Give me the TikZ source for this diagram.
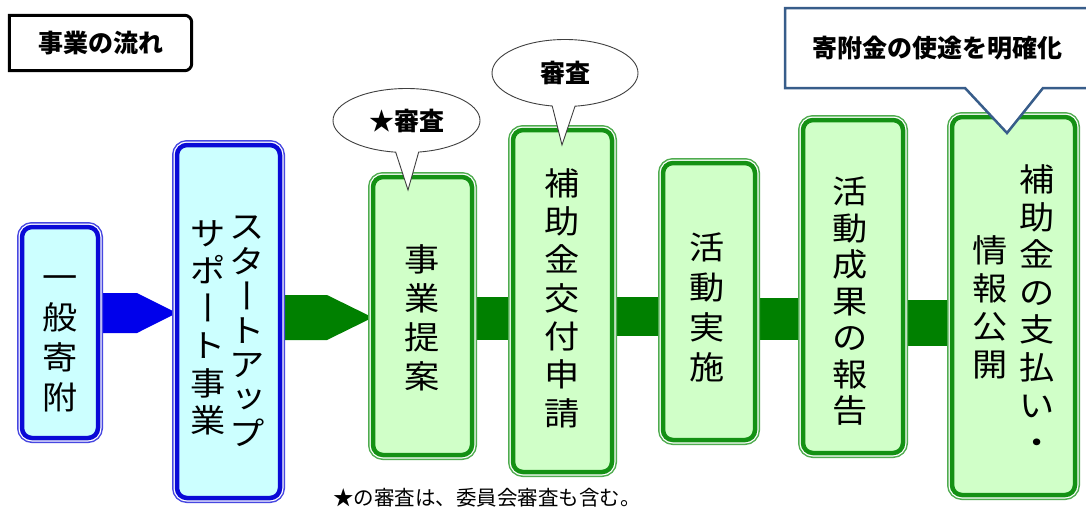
\documentclass[tikz,border=0pt]{standalone}
\usepackage{fontspec}
\newfontfamily\jp{Noto Sans CJK JP}
\newfontfamily\jpt[FakeStretch=1.1]{Noto Sans CJK JP}
\usetikzlibrary{shapes.callouts,shapes.geometric,calc}
\definecolor{bbord}{RGB}{10,10,215}
\definecolor{bfill}{RGB}{204,255,255}
\definecolor{gbord}{RGB}{20,145,20}
\definecolor{gfill}{RGB}{208,255,200}
\definecolor{conn}{RGB}{0,128,0}
\definecolor{barrow}{RGB}{0,0,235}
\definecolor{cbord}{RGB}{56,93,138}
\newcommand\jrow[1]{\rule[-0.12em]{0pt}{1em}#1}
\newcommand\vbar{\rotatebox[origin=c]{90}{\makebox[1em]{\rule[-0.12em]{0pt}{1em}ー}}}
\newcommand\smtu{\makebox[1em]{\hspace{0.12em}\raisebox{0.12em}{ッ}}}
\begin{document}
\begin{tikzpicture}[x=1pt,y=-1pt,
  flowbox/.style={rectangle, rounded corners=10pt, inner sep=0pt, draw=#1, line width=4.5pt,
    preaction={draw=#1!75, line width=10pt}, preaction={draw=white, line width=7pt}},
  bluebox/.style={flowbox=bbord, fill=bfill},
  greenbox/.style={flowbox=gbord, fill=gfill},
  vtext/.style={font=\jpt\fontsize{32}{#1}\selectfont, align=center, inner sep=0pt},
  bubble/.style={ellipse callout, draw=black!75, line width=0.9pt, fill=white, inner sep=0pt,
    callout pointer arc=18, font=\jp\bfseries\fontsize{25}{25}\selectfont},
  heading/.style={font=\jp\bfseries\fontsize{25}{25}\selectfont}
]
\useasboundingbox (0,0) rectangle (1086,512);
\clip (0,0) rectangle (1086,512);
\fill[white] (0,0) rectangle (1086,512);

% title
\node[minimum width=182pt, minimum height=55pt, inner sep=0pt, heading] (title) at (100.5,43) {事業の流れ};
\draw[line width=3pt] (title.north west) [rounded corners=7pt] -- (title.north east) -- (title.south east) [sharp corners] -- (title.south west) -- cycle;

% box positions (drawn after connectors)
\path
  (60,332.5)    node[minimum width=76pt,  minimum height=211pt, inner sep=0pt] (b1) {}
  (228.5,321.5) node[minimum width=103pt, minimum height=353pt, inner sep=0pt] (b2) {}
  (422.5,316)   node[minimum width=99pt,  minimum height=278pt, inner sep=0pt] (b3) {}
  (562.5,301)   node[minimum width=99pt,  minimum height=342pt, inner sep=0pt] (b4) {}
  (709,301.5)   node[minimum width=92pt,  minimum height=277pt, inner sep=0pt] (b5) {}
  (853,286.5)   node[minimum width=100pt, minimum height=333pt, inner sep=0pt] (b6) {}
  (1013.5,306)  node[minimum width=123pt, minimum height=378pt, inner sep=0pt] (b7) {};

% connectors
\fill[barrow] (b1.east |- 0,293) -- (137,293) -- (b2.west |- 0,313) -- (137,333) -- (b1.east |- 0,333) -- cycle;
\fill[conn] (b2.east |- 0,295) -- (327,295) -- (b3.west |- 0,317.5) -- (327,340) -- (b2.east |- 0,340) -- cycle;
\fill[conn] (b3.east |- 0,297) rectangle (b4.west |- 0,340);
\fill[conn] (b4.east |- 0,297) rectangle (b5.west |- 0,336);
\fill[conn] (b5.east |- 0,298) rectangle (b6.west |- 0,340);
\fill[conn] (b6.east |- 0,300) rectangle (b7.west |- 0,346);

% boxes
\node[bluebox,  minimum width=76pt,  minimum height=211pt] at (b1) {};
\node[bluebox,  minimum width=103pt, minimum height=353pt] at (b2) {};
\node[greenbox, minimum width=99pt,  minimum height=278pt] at (b3) {};
\node[greenbox, minimum width=99pt,  minimum height=342pt] at (b4) {};
\node[greenbox, minimum width=92pt,  minimum height=277pt] at (b5) {};
\node[greenbox, minimum width=100pt, minimum height=333pt] at (b6) {};
\node[greenbox, minimum width=123pt, minimum height=378pt] at (b7) {};

% texts
\node[vtext=40] (t1) at (60,337) {\jrow{一}\\\jrow{般}\\\jrow{寄}\\\jrow{附}};
\node[vtext=34.5] (t2r) at (247,330) {\jrow{ス}\\\jrow{タ}\\\jrow{\vbar}\\\jrow{ト}\\\jrow{ア}\\\jrow{\smtu}\\\jrow{プ}};
\node[vtext=37.5] (t2l) at (208,327) {\jrow{サ}\\\jrow{ポ}\\\jrow{\vbar}\\\jrow{ト}\\\jrow{事}\\\jrow{業}};
\node[vtext=39] (t3) at (422,318) {\jrow{事}\\\jrow{業}\\\jrow{提}\\\jrow{案}};
\node[vtext=38.3] (t4) at (562,298) {\jrow{補}\\\jrow{助}\\\jrow{金}\\\jrow{交}\\\jrow{付}\\\jrow{申}\\\jrow{請}};
\node[vtext=40] (t5) at (707,307) {\jrow{活}\\\jrow{動}\\\jrow{実}\\\jrow{施}};
\node[vtext=36.5] (t6) at (850,301) {\jrow{活}\\\jrow{動}\\\jrow{成}\\\jrow{果}\\\jrow{の}\\\jrow{報}\\\jrow{告}};
\node[vtext=37.6] (t7r) at (1037,311) {\jrow{補}\\\jrow{助}\\\jrow{金}\\\jrow{の}\\\jrow{支}\\\jrow{払}\\\jrow{い}\\\jrow{・}};
\node[vtext=38] (t7l) at (990,307) {\jrow{情}\\\jrow{報}\\\jrow{公}\\\jrow{開}};

% callouts
\coordinate (p1) at (408,190);
\coordinate (p2) at (562,145);
\coordinate (p3) at (1007,133);
\node[bubble, minimum width=147pt, minimum height=64pt, callout absolute pointer={(p1)}] (c1) at (406.5,120.5) {★審査};
\node[bubble, minimum width=146pt, minimum height=67pt, callout absolute pointer={(p2)}] (c2) at (565,73) {審査};
\draw[cbord, line width=2.5pt, fill=white] (785,8) -- (1100,8) -- (1100,88) -- (1043,88) -- (p3) -- (965,88) -- (785,88) -- cycle;
\node[heading] (c3) at (937,48) {寄附金の使途を明確化};

% footnote
\node[font=\jp\fontsize{20.5}{20.5}\selectfont, inner sep=0pt] (note) at (487,498) {★の審査は、委員会審査も含む。};
\end{tikzpicture}
\end{document}
